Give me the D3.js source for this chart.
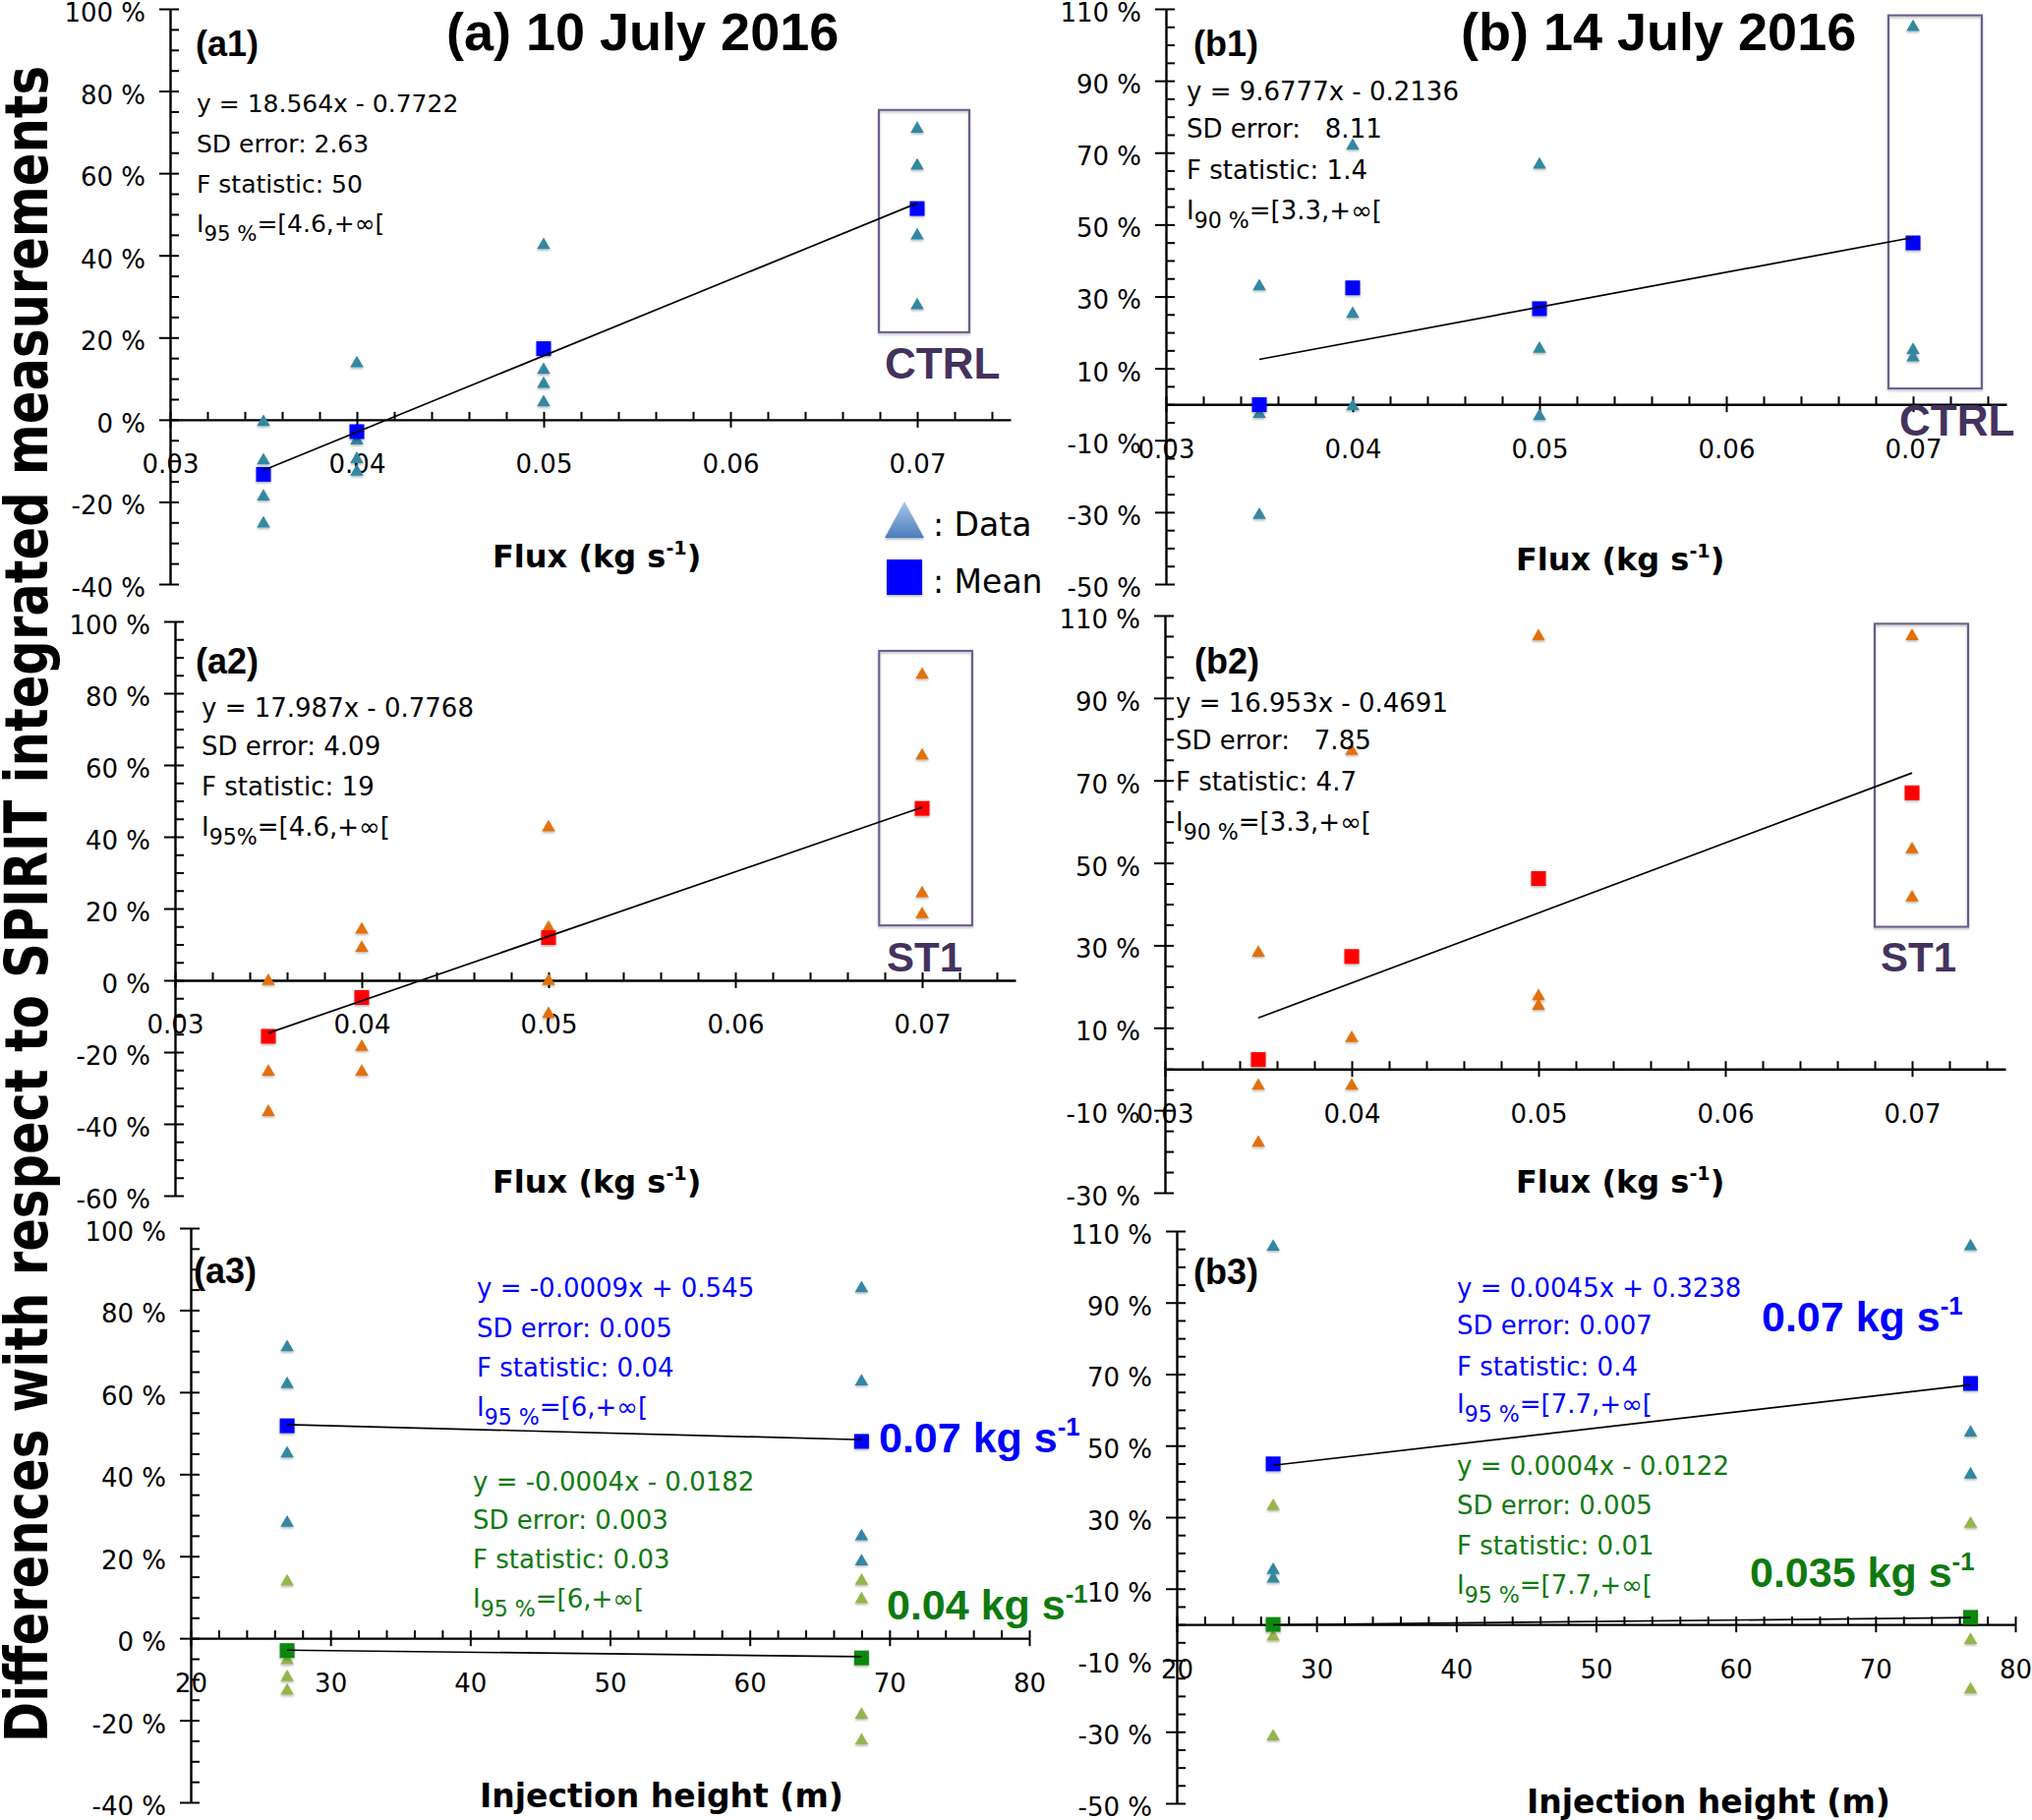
<!DOCTYPE html>
<html>
<head>
<meta charset="utf-8">
<script src="https://cdn.jsdelivr.net/npm/d3@7"></script>
<style>
  body { margin: 0; background: #fff; }
  text { white-space: pre; }
</style>
</head>
<body>
<svg id="fig" width="2067" height="1851"></svg>
<script>
// values (differences in %)
const fluxLevels = [0.035, 0.04, 0.05, 0.07];
const fluxFitX = [0.035, 0.07];
const fluxTicks = [0.03, 0.04, 0.05, 0.06, 0.07];
const heightTicks = [20, 30, 40, 50, 60, 70, 80];

// (a1) 10 July 2016, CTRL
const a1Data = [[-0.6, -9.9, -18.7, -25.3], [13.7, -5.1, -9.6, -12.7], [42.5, 12.1, 8.7, 4.2], [70.8, 61.8, 44.8, 27.8]];
const a1Mean = [-13.3, -2.9, 17.3, 51.4];
const a1Fit = [-12.3, 52.7];
const a1Ticks = [100, 80, 60, 40, 20, 0, -20, -40];

// (a2) 10 July 2016, ST1
const a2Data = [[-0.2, -25.5, -36.7], [14.1, 9.0, -18.6, -25.5], [42.6, 14.6, -0.2, -9.4], [85.1, 62.6, 24.2, 18.4]];
const a2Mean = [-15.6, -4.8, 11.9, 47.9];
const a2Fit = [-14.7, 48.2];
const a2Ticks = [100, 80, 60, 40, 20, 0, -20, -40, -60];

// (a3) 10 July 2016, vs injection height
const a3Heights = [26.9, 68.0];
const a3HighData = [[70.9, 61.9, 45.0, 28.1], [85.3, 62.6, 24.8, 18.7]];
const a3HighMean = [51.8, 48.0];
const a3HighFit = [52.1, 48.4];
const a3LowData = [[13.8, -5.4, -9.5, -12.8], [14.0, 9.5, -18.7, -25.0]];
const a3LowMean = [-3.0, -4.8];
const a3LowFit = [-2.9, -4.5];
const a3Ticks = [100, 80, 60, 40, 20, 0, -20, -40];

// (b1) 14 July 2016, CTRL
const b1Data = [[32.8, -2.7, -30.8], [71.9, 25.1, -0.6], [66.6, 15.4, -3.3], [104.9, 15.1, 13.0]];
const b1Mean = [-0.1, 32.4, 26.6, 44.9];
const b1Fit = [12.5, 46.4];
const b1Ticks = [110, 90, 70, 50, 30, 10, -10, -30, -50];

// (b2) 14 July 2016, ST1
const b2Data = [[28.2, -4.1, -17.9], [77.1, 7.5, -4.1], [104.9, 17.6, 15.3], [105.0, 53.3, 41.6]];
const b2Mean = [2.3, 27.3, 46.2, 67.0];
const b2Fit = [12.4, 71.8];
const b2Ticks = [110, 90, 70, 50, 30, 10, -10, -30];

// (b3) 14 July 2016, vs injection height
const b3Heights = [26.9, 76.8];
const b3HighData = [[105.6, 15.2, 12.8], [105.7, 53.6, 41.9]];
const b3HighMean = [44.9, 67.4];
const b3HighFit = [44.5, 67.0];
const b3LowData = [[33.1, -3.4, -31.3], [28.1, -4.4, -18.2]];
const b3LowMean = [0.0, 2.0];
const b3LowFit = [-0.1, 1.9];
const b3Ticks = [110, 90, 70, 50, 30, 10, -10, -30, -50];

// CTRL / ST1 boxes, in data units [x0, x1, yTop, yBottom]
const a1Box = [0.06795, 0.07279, 75.4, 21.3];
const a2Box = [0.0677, 0.07268, 91.8, 15.3];
const b1Box = [0.06868, 0.07368, 108.2, 4.4];
const b2Box = [0.06800, 0.07300, 108.0, 34.5];

const TEAL = '#3188a0', ORANGE = '#e3700f', OLIVE = '#93b54c';
const BLUE = '#0000ff', RED = '#ff0000', GREEN = '#118811', GTEXT = '#0e7a0e';
const PURPLE = '#6a5a8c', PTEXT = '#44325e';
const SANS = "'DejaVu Sans', Verdana, sans-serif";
const ARIAL = "'Liberation Sans', Arial, sans-serif";

const svg = d3.select('#fig');

const defs = svg.append('defs');
const shadow = defs.append('filter').attr('id', 'shadow')
  .attr('x', '-50%').attr('y', '-50%').attr('width', '200%').attr('height', '200%');
shadow.append('feDropShadow').attr('dx', 0).attr('dy', 1.5).attr('stdDeviation', 1.2)
  .attr('flood-color', '#000').attr('flood-opacity', 0.3);
const grad = defs.append('linearGradient').attr('id', 'triGrad')
  .attr('x1', 0).attr('y1', 0).attr('x2', 0).attr('y2', 1);
grad.append('stop').attr('offset', '0%').attr('stop-color', '#a9c6ea');
grad.append('stop').attr('offset', '100%').attr('stop-color', '#4a7ebb');

const tri = d3.symbol().type(d3.symbolTriangle).size(80)();
const sq = d3.symbol().type(d3.symbolSquare).size(225)();

const panels = [
  { xd: [0.03, 0.075], xr: [173, 1028], yd: [-40, 100], yr: [594, 9], yTicks: a1Ticks,
    xTicks: fluxTicks, xMinor: 0.002, fmt: d3.format('.2f'), box: a1Box,
    series: [{ xs: fluxLevels, data: a1Data, mean: a1Mean, fitX: fluxFitX, fit: a1Fit, tri: TEAL, sq: BLUE }] },
  { xd: [0.03, 0.075], xr: [178, 1033], yd: [-60, 100], yr: [1216, 632], yTicks: a2Ticks,
    xTicks: fluxTicks, xMinor: 0.002, fmt: d3.format('.2f'), box: a2Box,
    series: [{ xs: fluxLevels, data: a2Data, mean: a2Mean, fitX: fluxFitX, fit: a2Fit, tri: ORANGE, sq: RED }] },
  { xd: [20, 80], xr: [194, 1047], yd: [-40, 100], yr: [1833, 1249], yTicks: a3Ticks,
    xTicks: heightTicks, xMinor: 2, fmt: d3.format('d'),
    series: [
      { xs: a3Heights, data: a3HighData, mean: a3HighMean, fitX: a3Heights, fit: a3HighFit, tri: TEAL, sq: BLUE },
      { xs: a3Heights, data: a3LowData, mean: a3LowMean, fitX: a3Heights, fit: a3LowFit, tri: OLIVE, sq: GREEN }] },
  { xd: [0.03, 0.075], xr: [1186, 2041], yd: [-50, 110], yr: [594, 9], yTicks: b1Ticks,
    xTicks: fluxTicks, xMinor: 0.002, fmt: d3.format('.2f'), box: b1Box,
    series: [{ xs: fluxLevels, data: b1Data, mean: b1Mean, fitX: fluxFitX, fit: b1Fit, tri: TEAL, sq: BLUE }] },
  { xd: [0.03, 0.075], xr: [1185, 2040], yd: [-30, 110], yr: [1213, 626], yTicks: b2Ticks,
    xTicks: fluxTicks, xMinor: 0.002, fmt: d3.format('.2f'), box: b2Box,
    series: [{ xs: fluxLevels, data: b2Data, mean: b2Mean, fitX: fluxFitX, fit: b2Fit, tri: ORANGE, sq: RED }] },
  { xd: [20, 80], xr: [1197, 2050], yd: [-50, 110], yr: [1834, 1252], yTicks: b3Ticks,
    xTicks: heightTicks, xMinor: 2, fmt: d3.format('d'),
    series: [
      { xs: b3Heights, data: b3HighData, mean: b3HighMean, fitX: b3Heights, fit: b3HighFit, tri: TEAL, sq: BLUE },
      { xs: b3Heights, data: b3LowData, mean: b3LowMean, fitX: b3Heights, fit: b3LowFit, tri: OLIVE, sq: GREEN }] }
];

const styleAxis = (g) => {
  g.select('.domain').attr('stroke', '#000').attr('stroke-width', 2.4);
  g.selectAll('.tick line').attr('stroke', '#000').attr('stroke-width', 2);
  g.selectAll('text').attr('font-family', SANS).attr('font-size', 26).attr('fill', '#000');
};

panels.forEach(p => {
  const x = d3.scaleLinear().domain(p.xd).range(p.xr);
  const y = d3.scaleLinear().domain(p.yd).range(p.yr);
  const g = svg.append('g');

  // minor ticks
  const nx = Math.round((p.xd[1] - p.xd[0]) / p.xMinor);
  const xMinor = d3.range(nx + 1).map(i => p.xd[0] + i * p.xMinor).filter(v => v <= p.xd[1] + 1e-9);
  const yMinor = d3.range(p.yd[0], p.yd[1] + 0.1, 5);

  // y axis: crossing major ticks, inner minor ticks
  g.append('g').attr('transform', `translate(${p.xr[0]},0)`)
    .call(d3.axisLeft(y).tickValues(p.yTicks).tickSize(11).tickSizeOuter(0).tickPadding(14).tickFormat(d => d + ' %'))
    .call(styleAxis)
    .selectAll('.tick text').attr('dy', '0.48em');
  g.append('g').attr('transform', `translate(${p.xr[0]},0)`)
    .call(d3.axisRight(y).tickValues(yMinor).tickSize(9).tickSizeOuter(0).tickFormat(''))
    .call(styleAxis).select('.domain').remove();

  // x axis on the zero line
  g.append('g').attr('transform', `translate(0,${y(0)})`)
    .call(d3.axisBottom(x).tickValues(p.xTicks).tickSize(8).tickSizeOuter(0).tickPadding(28).tickFormat(p.fmt))
    .call(styleAxis);
  g.append('g').attr('transform', `translate(0,${y(0)})`)
    .call(d3.axisTop(x).tickValues(xMinor).tickSize(8).tickSizeOuter(0).tickFormat(''))
    .call(styleAxis).select('.domain').remove();

  if (p.box) {
    g.append('rect')
      .attr('x', x(p.box[0])).attr('y', y(p.box[2]))
      .attr('width', x(p.box[1]) - x(p.box[0])).attr('height', y(p.box[3]) - y(p.box[2]))
      .attr('fill', 'none').attr('stroke', PURPLE).attr('stroke-width', 2).attr('filter', 'url(#shadow)');
  }

  p.series.forEach(s => {
    const pts = s.data.flatMap((vals, i) => vals.map(v => [s.xs[i], v]));
    g.append('g').selectAll('path').data(pts).join('path')
      .attr('d', tri)
      .attr('transform', d => `translate(${x(d[0])},${y(d[1])})`)
      .attr('fill', s.tri).attr('filter', 'url(#shadow)');
  });
  p.series.forEach(s => {
    g.append('g').selectAll('path').data(s.mean.map((v, i) => [s.xs[i], v])).join('path')
      .attr('d', sq)
      .attr('transform', d => `translate(${x(d[0])},${y(d[1])})`)
      .attr('fill', s.sq).attr('filter', 'url(#shadow)');
  });
  p.series.forEach(s => {
    g.append('path')
      .datum(s.fit.map((v, i) => [s.fitX[i], v]))
      .attr('d', d3.line().x(d => x(d[0])).y(d => y(d[1])))
      .attr('fill', 'none').attr('stroke', '#000').attr('stroke-width', 1.7);
  });
});

// ---- texts ----
const txt = (x, y, str, opts = {}) => svg.append('text')
  .attr('x', x).attr('y', y)
  .attr('font-family', opts.family || SANS)
  .attr('font-size', opts.size || 26)
  .attr('font-weight', opts.weight || 'normal')
  .attr('fill', opts.fill || '#000')
  .text(str);

const ciLine = (x, y, sub, rest, fill, size) => {
  const t = svg.append('text').attr('x', x).attr('y', y)
    .attr('font-family', SANS).attr('font-size', size).attr('fill', fill);
  t.append('tspan').text('I');
  t.append('tspan').attr('dy', 9).attr('font-size', size * 0.85).text(sub);
  t.append('tspan').attr('dy', -9).text(rest);
};

const unitLabel = (x, y, str, opts) => {
  const t = txt(x, y, str, opts);
  t.append('tspan').attr('dy', -opts.size * 0.4).attr('font-size', opts.size * 0.6).text('-1');
  if (opts.close) t.append('tspan').attr('dy', opts.size * 0.4).text(opts.close);
};

const statBlock = (x, ys, lines, sub, rest, fill, size) => {
  lines.forEach((l, i) => txt(x, ys[i], l, { fill, size }));
  ciLine(x, ys[3], sub, rest, fill, size);
};

// big y label
svg.append('text')
  .attr('transform', 'translate(48,1772) rotate(-90)')
  .attr('font-family', SANS).attr('font-weight', 'bold').attr('font-size', 60)
  .attr('textLength', 1705).attr('lengthAdjust', 'spacingAndGlyphs')
  .text('Differences with respect to SPIRIT integrated measurements');

// titles
txt(454, 51, '(a) 10 July 2016', { family: ARIAL, weight: 'bold', size: 54 });
txt(1486, 51, '(b) 14 July 2016', { family: ARIAL, weight: 'bold', size: 54 });

// panel tags
[['(a1)', 199, 57], ['(a2)', 199, 685], ['(a3)', 197, 1305],
 ['(b1)', 1214, 57], ['(b2)', 1215, 685], ['(b3)', 1214, 1306]]
  .forEach(([s, x, y]) => txt(x, y, s, { family: ARIAL, weight: 'bold', size: 36 }));

// regression statistics
statBlock(200, [114, 155, 196, 236], ['y = 18.564x - 0.7722', 'SD error: 2.63', 'F statistic: 50'], '95 %', '=[4.6,+∞[', '#000', 25);
statBlock(205, [729, 768, 809, 850], ['y = 17.987x - 0.7768', 'SD error: 4.09', 'F statistic: 19'], '95%', '=[4.6,+∞[', '#000', 26);
statBlock(485, [1319, 1360, 1400, 1440], ['y = -0.0009x + 0.545', 'SD error: 0.005', 'F statistic: 0.04'], '95 %', '=[6,+∞[', BLUE, 26);
statBlock(481, [1516, 1555, 1595, 1635], ['y = -0.0004x - 0.0182', 'SD error: 0.003', 'F statistic: 0.03'], '95 %', '=[6,+∞[', GTEXT, 26);
statBlock(1207, [102, 140, 182, 223], ['y = 9.6777x - 0.2136', 'SD error:   8.11', 'F statistic: 1.4'], '90 %', '=[3.3,+∞[', '#000', 26);
statBlock(1196, [724, 762, 804, 845], ['y = 16.953x - 0.4691', 'SD error:   7.85', 'F statistic: 4.7'], '90 %', '=[3.3,+∞[', '#000', 26);
statBlock(1482, [1319, 1357, 1399, 1437], ['y = 0.0045x + 0.3238', 'SD error: 0.007', 'F statistic: 0.4'], '95 %', '=[7.7,+∞[', BLUE, 26);
statBlock(1482, [1500, 1540, 1581, 1621], ['y = 0.0004x - 0.0122', 'SD error: 0.005', 'F statistic: 0.01'], '95 %', '=[7.7,+∞[', GTEXT, 26);

// CTRL / ST1
txt(900, 385, 'CTRL', { family: ARIAL, weight: 'bold', size: 44, fill: PTEXT });
txt(1932, 443, 'CTRL', { family: ARIAL, weight: 'bold', size: 44, fill: PTEXT });
txt(902, 988, 'ST1', { family: ARIAL, weight: 'bold', size: 42, fill: PTEXT });
txt(1913, 988, 'ST1', { family: ARIAL, weight: 'bold', size: 42, fill: PTEXT });

// flux labels on a3 / b3
unitLabel(894, 1477, '0.07 kg s', { family: ARIAL, weight: 'bold', size: 43, fill: BLUE });
unitLabel(902, 1647, '0.04 kg s', { family: ARIAL, weight: 'bold', size: 43, fill: GTEXT });
unitLabel(1792, 1354, '0.07 kg s', { family: ARIAL, weight: 'bold', size: 43, fill: BLUE });
unitLabel(1780, 1614, '0.035 kg s', { family: ARIAL, weight: 'bold', size: 43, fill: GTEXT });

// axis titles
[[501, 577], [501, 1213], [1542, 580], [1542, 1213]].forEach(([x, y]) =>
  unitLabel(x, y, 'Flux (kg s', { weight: 'bold', size: 32, close: ')' }));
txt(488, 1838, 'Injection height (m)', { weight: 'bold', size: 33 });
txt(1553, 1844, 'Injection height (m)', { weight: 'bold', size: 33 });

// legend
svg.append('path').attr('d', 'M920,510 L940,547 L900,547 Z')
  .attr('fill', 'url(#triGrad)').attr('filter', 'url(#shadow)');
svg.append('rect').attr('x', 902).attr('y', 569).attr('width', 36).attr('height', 36)
  .attr('fill', BLUE).attr('filter', 'url(#shadow)');
txt(949, 545, ': Data', { size: 33 });
txt(949, 603, ': Mean', { size: 33 });
</script>
</body>
</html>
